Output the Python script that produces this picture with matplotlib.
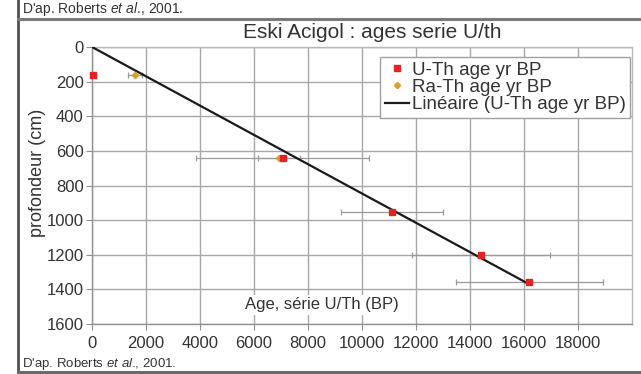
import numpy as np
import matplotlib
matplotlib.use("Agg")
import matplotlib.pyplot as plt
from matplotlib.lines import Line2D

plt.rcParams['font.family'] = ['Liberation Sans', 'DejaVu Sans']
plt.rcParams['mathtext.fontset'] = 'custom'
plt.rcParams['mathtext.rm'] = 'Liberation Sans'
plt.rcParams['mathtext.it'] = 'Liberation Sans:italic'

# Data
uth_age = [30, 7070, 11110, 14400, 16190]
uth_depth = [160, 640, 955, 1200, 1358]
uth_err = [0, 3200, 1900, 2550, 2720]
rath_age = [1590, 6930]
rath_depth = [161, 640]
rath_err = [270, 780]
x_ticks = [0, 2000, 4000, 6000, 8000, 10000, 12000, 14000, 16000, 18000]
y_ticks = [0, 200, 400, 600, 800, 1000, 1200, 1400, 1600]

W, H = 641, 374
fig = plt.figure(figsize=(W / 100, H / 100), dpi=100)
fig.patch.set_facecolor('white')

def fx(px):
    return px / W

def fy(py):
    return 1 - py / H

ax = fig.add_axes([fx(92), fy(324), fx(632) - fx(92), fy(47) - fy(324)])
ax.set_xlim(0, 20000)
ax.set_ylim(1600, 0)
ax.set_xticks(x_ticks)
ax.set_yticks(y_ticks)
ax.set_xticklabels([str(v) for v in x_ticks])
ax.grid(True, color='#a8a8a8', linewidth=1.0)
ax.set_axisbelow(True)
for s in ax.spines.values():
    s.set_color('#b8b8b8')
    s.set_linewidth(1.0)
ax.spines['left'].set_color('#909090')
ax.spines['bottom'].set_color('#909090')
ax.tick_params(axis='both', colors='#909090', labelcolor='#333333', labelsize=12,
               length=4, direction='out', pad=2)
ax.tick_params(axis='x', pad=5)

# error bars
ax.errorbar(uth_age, uth_depth, xerr=uth_err, fmt='none', ecolor='#9a9a9a',
            elinewidth=0.9, capsize=2.5, capthick=0.9, zorder=2)
ax.errorbar(rath_age, rath_depth, xerr=rath_err, fmt='none', ecolor='#9a9a9a',
            elinewidth=0.9, capsize=2.5, capthick=0.9, zorder=2)

# linear fit through origin on U-Th
xa = np.array(uth_age, dtype=float)
ya = np.array(uth_depth, dtype=float)
slope = np.sum(xa * ya) / np.sum(xa * xa)
xs = np.array([0, xa.max()])
ax.plot(xs, slope * xs, color='#1a1a1a', linewidth=1.6, zorder=3)

ax.plot(rath_age, rath_depth, linestyle='none', marker='D', color='#d9a032',
        markersize=3.2, zorder=4, clip_on=False)
ax.plot(uth_age, uth_depth, linestyle='none', marker='s', color='#e02424',
        markersize=4.2, zorder=5, clip_on=False)

ax.text(8500, 1490, 'Age, série U/Th (BP)', fontsize=12, color='#333333',
        ha='center', va='center',
        bbox=dict(facecolor='white', edgecolor='none', pad=2), zorder=6)

handles = [
    Line2D([], [], linestyle='none', marker='s', color='#e02424', markersize=4.2),
    Line2D([], [], linestyle='none', marker='D', color='#d9a032', markersize=3.2),
    Line2D([], [], color='#1a1a1a', linewidth=1.6),
]
labels = ['U-Th age yr BP', 'Ra-Th age yr BP', 'Linéaire (U-Th age yr BP)']
leg = fig.legend(handles, labels, loc='upper left', bbox_to_anchor=(fx(380), fy(57)),
                 fontsize=13.5, frameon=True, fancybox=False, framealpha=1,
                 edgecolor='#a0a0a0', borderpad=0.25, handlelength=1.3,
                 handletextpad=0.15, labelspacing=0.0, borderaxespad=0)
leg.get_frame().set_linewidth(1.0)
for t in leg.get_texts():
    t.set_color('#333333')

fig.text(fx(372), fy(33), 'Eski Acigol : ages serie U/th', fontsize=15, color='#333333',
         ha='center', va='center')
fig.text(fx(37), fy(173), 'profondeur (cm)', fontsize=13, color='#333333',
         rotation=90, ha='center', va='center')

# frame lines
fig.add_artist(Line2D([fx(18), fx(18)], [fy(0), fy(373)], color='#505050', linewidth=2.0))
fig.add_artist(Line2D([fx(18), fx(641)], [fy(18.5), fy(18.5)], color='#7a7a7a', linewidth=2.2))
fig.add_artist(Line2D([fx(18), fx(641)], [fy(371.5), fy(371.5)], color='#6a6a6a', linewidth=2.2))

source = r"D'ap. Roberts $\mathit{et\ al}$., 2001."
fig.text(fx(22), fy(9), source, fontsize=10, color='#333333', ha='left', va='center')
fig.text(fx(22), fy(364), source, fontsize=9.5, color='#333333', ha='left', va='center')
fig.savefig('out.png', dpi=100)
